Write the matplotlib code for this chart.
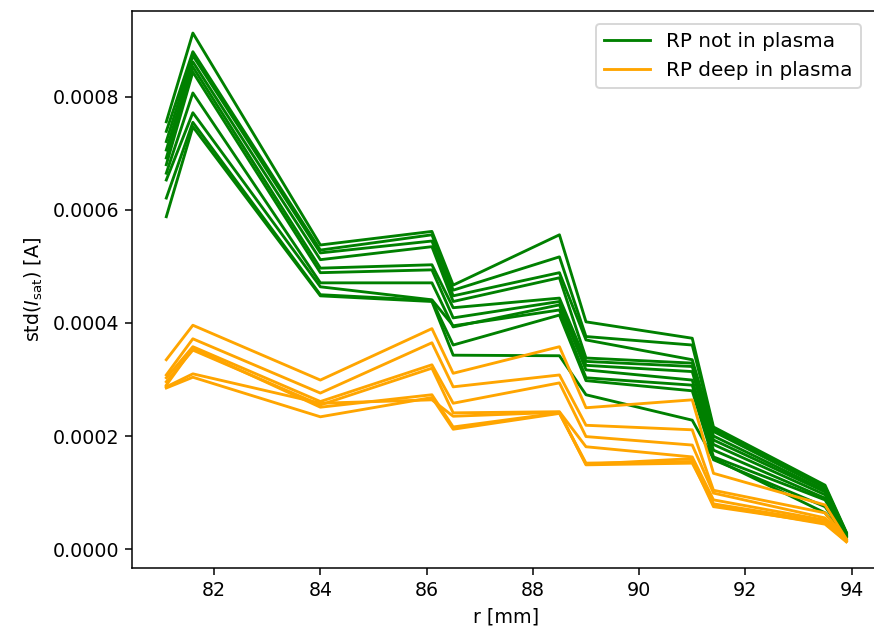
import matplotlib
matplotlib.use('Agg')
import matplotlib.pyplot as plt
import numpy as np

# radial positions [mm]
r = [81.1, 81.6, 84.0, 86.1, 86.5, 88.5, 89.0, 91.0, 91.4, 93.5, 93.9]

# std(I_sat) per position, RP not in plasma (one row per shot)
green = [
    [0.000756, 0.000913, 0.000538, 0.000562, 0.000467, 0.000556, 0.000402, 0.000373, 0.000216, 0.000113, 0.000030],
    [0.000739, 0.000880, 0.000529, 0.000556, 0.000458, 0.000517, 0.000376, 0.000361, 0.000212, 0.000110, 0.000029],
    [0.000721, 0.000873, 0.000524, 0.000545, 0.000448, 0.000489, 0.000370, 0.000335, 0.000208, 0.000108, 0.000028],
    [0.000706, 0.000862, 0.000512, 0.000535, 0.000438, 0.000480, 0.000338, 0.000329, 0.000200, 0.000104, 0.000027],
    [0.000692, 0.000853, 0.000497, 0.000503, 0.000427, 0.000444, 0.000332, 0.000323, 0.000193, 0.000101, 0.000026],
    [0.000680, 0.000844, 0.000489, 0.000494, 0.000409, 0.000438, 0.000325, 0.000314, 0.000185, 0.000096, 0.000025],
    [0.000665, 0.000807, 0.000471, 0.000471, 0.000393, 0.000432, 0.000317, 0.000299, 0.000175, 0.000090, 0.000024],
    [0.000653, 0.000772, 0.000464, 0.000441, 0.000395, 0.000423, 0.000303, 0.000290, 0.000163, 0.000087, 0.000023],
    [0.000621, 0.000755, 0.000450, 0.000440, 0.000361, 0.000414, 0.000298, 0.000280, 0.000158, 0.000075, 0.000022],
    [0.000588, 0.000747, 0.000448, 0.000438, 0.000343, 0.000342, 0.000273, 0.000228, 0.000160, 0.000064, 0.000020],
]

# RP deep in plasma
orange = [
    [0.000335, 0.000396, 0.000299, 0.000390, 0.000311, 0.000358, 0.000250, 0.000264, 0.000134, 0.000078, 0.000018],
    [0.000308, 0.000372, 0.000276, 0.000365, 0.000287, 0.000308, 0.000219, 0.000211, 0.000104, 0.000064, 0.000017],
    [0.000303, 0.000358, 0.000261, 0.000326, 0.000258, 0.000294, 0.000199, 0.000184, 0.000099, 0.000055, 0.000016],
    [0.000296, 0.000352, 0.000255, 0.000320, 0.000241, 0.000243, 0.000181, 0.000163, 0.000087, 0.000051, 0.000015],
    [0.000290, 0.000355, 0.000251, 0.000273, 0.000216, 0.000241, 0.000152, 0.000155, 0.000075, 0.000046, 0.000014],
    [0.000287, 0.000310, 0.000258, 0.000264, 0.000235, 0.000242, 0.000149, 0.000152, 0.000080, 0.000048, 0.000013],
    [0.000285, 0.000304, 0.000234, 0.000268, 0.000212, 0.000240, 0.000150, 0.000160, 0.000078, 0.000044, 0.000013],
]

dpi = 137
fig = plt.figure(figsize=(874 / dpi, 634 / dpi), dpi=dpi)
ax = fig.add_axes([132.3 / 874, 1 - 567.7 / 634, 748 / 874, (567.7 - 11) / 634])

for i, row in enumerate(green):
    ax.plot(r, row, color='green', label='RP not in plasma' if i == 0 else None)
for i, row in enumerate(orange):
    ax.plot(r, row, color='orange', label='RP deep in plasma' if i == 0 else None)

ax.set_ylim(-0.000033, 0.000952)
ax.set_xlabel('r [mm]')
ax.set_ylabel(r'std($I_{\rm sat}$) [A]')
ax.legend(loc='upper right', bbox_to_anchor=(0.987, 0.995), fontsize=10.5, handlelength=2.3)

plt.savefig('out.png', dpi=dpi)
